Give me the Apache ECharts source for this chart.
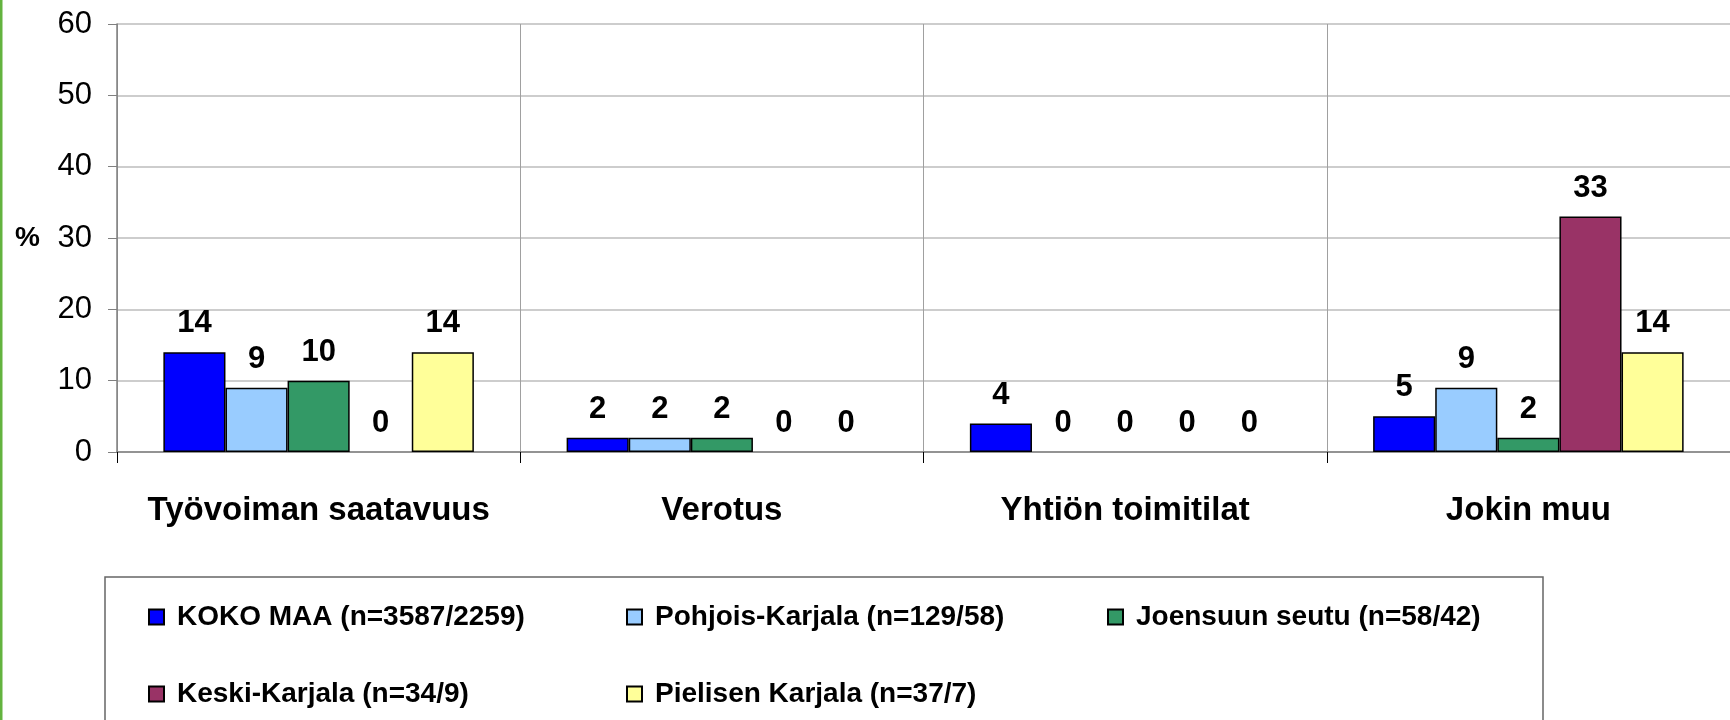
<!DOCTYPE html>
<html>
<head>
<meta charset="utf-8">
<script src="https://cdn.jsdelivr.net/npm/echarts@6/dist/echarts.min.js"></script>
<style>
    html, body { margin: 0; padding: 0; background: #fff; }
    #chart { width: 1730px; height: 720px; }
</style>
</head>
<body>
<div id="chart"></div>
<script>
const categories = ["Työvoiman saatavuus", "Verotus", "Yhtiön toimitilat", "Jokin muu"];
const seriesNames = [
    "KOKO MAA (n=3587/2259)",
    "Pohjois-Karjala (n=129/58)",
    "Joensuun seutu (n=58/42)",
    "Keski-Karjala (n=34/9)",
    "Pielisen Karjala (n=37/7)"
];
const kokoMaa = [14, 2, 4, 5];
const pohjoisKarjala = [9, 2, 0, 9];
const joensuunSeutu = [10, 2, 0, 2];
const keskiKarjala = [0, 0, 0, 33];
const pielisenKarjala = [14, 0, 0, 14];
const yTicks = [0, 10, 20, 30, 40, 50, 60];

const colors = ["#0000ff", "#99ccff", "#339966", "#993366", "#ffff99"];
const values = [kokoMaa, pohjoisKarjala, joensuunSeutu, keskiKarjala, pielisenKarjala];
const font = "Liberation Sans, Arial, sans-serif";

// legend item spots, two rows like the original
const legendSpots = [[148, 603], [626, 603], [1107, 603], [148, 680], [626, 680]];

const chart = echarts.init(document.getElementById("chart"));

chart.setOption({
    backgroundColor: "#fff",
    animation: false,
    textStyle: { fontFamily: font },
    grid: { left: 117, top: 24, width: 1630, height: 428, containLabel: false },
    xAxis: {
        type: "category",
        data: categories,
        axisLine: { lineStyle: { color: "#808080", width: 1.5 } },
        axisTick: { show: true, interval: 0, length: 11, lineStyle: { color: "#000", width: 1 } },
        splitLine: { show: true, interval: 0, lineStyle: { color: "#a0a0a0", width: 1 } },
        axisLabel: {
            interval: 0,
            margin: 42,
            color: "#000",
            fontSize: 33,
            fontWeight: "bold",
            fontFamily: font
        }
    },
    yAxis: {
        type: "value",
        min: yTicks[0],
        max: yTicks[yTicks.length - 1],
        interval: 10,
        name: "%",
        nameLocation: "middle",
        nameRotate: 0,
        nameGap: 77,
        nameTextStyle: { color: "#000", fontSize: 28, fontWeight: "bold", fontFamily: font },
        axisLine: { show: true, lineStyle: { color: "#808080", width: 1.5 } },
        axisTick: { show: true, length: 9, lineStyle: { color: "#808080" } },
        splitLine: { lineStyle: { color: "#bdbdbd", width: 1.5 } },
        axisLabel: { margin: 25, color: "#000", fontSize: 31, fontFamily: font }
    },
    legend: seriesNames.map((name, i) => ({
        data: [name],
        left: legendSpots[i][0],
        top: legendSpots[i][1],
        padding: 0,
        icon: "rect",
        itemWidth: 15,
        itemHeight: 15,
        selectedMode: false,
        textStyle: {
            color: "#000",
            fontSize: 28,
            fontWeight: "bold",
            fontFamily: font,
            lineHeight: 24,
            padding: [0, 0, 0, 8]
        }
    })),
    series: seriesNames.map((name, i) => ({
        name: name,
        type: "bar",
        // zero bars: keep the label, drop the black outline along the axis
        data: values[i].map(v => v === 0 ? { value: 0, itemStyle: { borderWidth: 0 } } : v),
        barGap: "0%",
        barCategoryGap: "23%",
        itemStyle: { color: colors[i], borderColor: "#000", borderWidth: 1.5 },
        label: {
            show: true,
            position: "top",
            distance: 13,
            color: "#000",
            fontSize: 31,
            fontWeight: "bold",
            fontFamily: font
        }
    })),
    graphic: [
        {
            type: "rect",
            z: -1,
            shape: { x: 0, y: 0, width: 2.5, height: 720 },
            style: { fill: "#63b33f" }
        },
        {
            type: "rect",
            z: -1,
            shape: { x: 105, y: 577, width: 1438, height: 200 },
            style: { fill: "none", stroke: "#666", lineWidth: 1.5 }
        }
    ]
});
</script>
</body>
</html>
